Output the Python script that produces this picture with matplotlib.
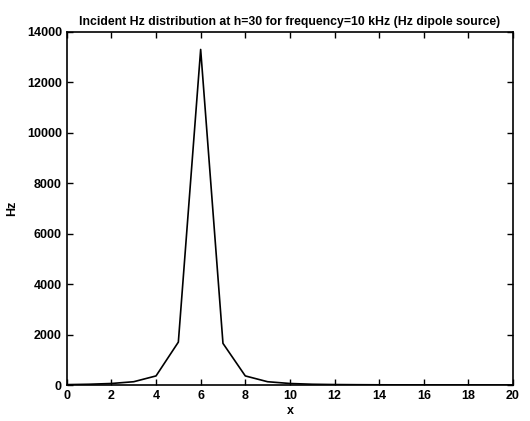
import matplotlib
matplotlib.use("Agg")
import matplotlib.pyplot as plt

# sample positions and incident Hz values
x = [0, 1, 2, 3, 4, 5, 6, 7, 8, 9, 10, 11, 12, 13, 14, 15, 16, 17, 18, 19, 20]
hz = [15, 30, 60, 130, 360, 1700, 13300, 1650, 360, 130, 60, 30, 18, 12, 8, 6, 5, 4, 3, 2, 2]

xticks = [0, 2, 4, 6, 8, 10, 12, 14, 16, 18, 20]
yticks = [0, 2000, 4000, 6000, 8000, 10000, 12000, 14000]

plt.rcParams['font.family'] = 'Liberation Sans'
plt.rcParams['font.weight'] = 'bold'

fig = plt.figure(figsize=(5.3, 4.21), dpi=100)
ax = fig.add_axes([0.126, 0.0855, 0.842, 0.839])

ax.plot(x, hz, color='black', linewidth=1.2)

ax.set_xlim(0, 20)
ax.set_ylim(0, 14000)
ax.set_xticks(xticks)
ax.set_yticks(yticks)
ax.tick_params(direction='in', length=4, width=1, labelsize=9, top=True, right=True)
for s in ax.spines.values():
    s.set_linewidth(1.2)

ax.set_xlabel('x', fontsize=9, fontweight='bold', labelpad=2)
ax.set_ylabel('Hz', fontsize=9, fontweight='bold', labelpad=6)
ax.set_title('Incident Hz distribution at h=30 for frequency=10 kHz (Hz dipole source)',
             fontsize=8.8, fontweight='bold', pad=5)

fig.savefig('out.png', dpi=100)
